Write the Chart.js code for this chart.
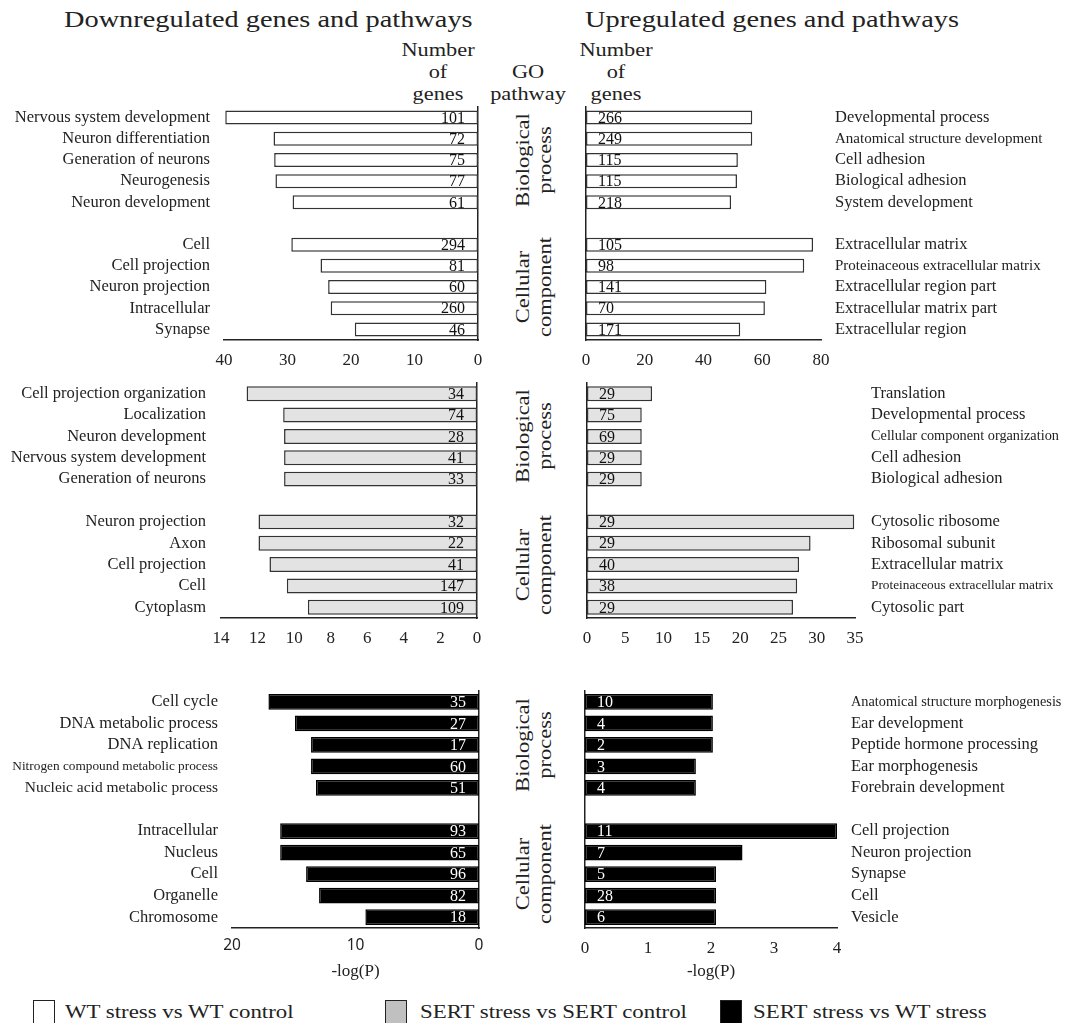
<!DOCTYPE html>
<html>
<head>
<meta charset="utf-8">
<script src="https://cdn.jsdelivr.net/npm/chart.js@4/dist/chart.umd.min.js"></script>
<style>
body { margin: 0; background: #fff; }
#page { position: relative; width: 1079px; height: 1023px; overflow: hidden; font-family: "Liberation Serif", serif; color: #222; }
canvas { position: absolute; }
.t { position: absolute; white-space: nowrap; line-height: 1; }
.c { position: absolute; text-align: center; white-space: nowrap; font-size: 18px; line-height: 22px; transform: scaleX(1.24); }
.rot { position: absolute; width: 140px; height: 44px; text-align: center; font-size: 18px; line-height: 22px; white-space: nowrap; transform: rotate(-90deg) scaleX(1.25); }
.box { position: absolute; width: 20px; height: 22px; border: 1.5px solid #222; top: 1000px; }
</style>
</head>
<body>
<div id="page">
  <div class="t" style="left:64px;top:9px;font-size:22.5px;transform-origin:left center;transform:scaleX(1.26)">Downregulated genes and pathways</div>
  <div class="t" style="left:585px;top:9px;font-size:22.5px;transform-origin:left center;transform:scaleX(1.26)">Upregulated genes and pathways</div>
  <div class="c" style="left:388px;width:100px;top:39px">Number<br>of<br>genes</div>
  <div class="c" style="left:478px;width:100px;top:61px">GO<br>pathway</div>
  <div class="c" style="left:566px;width:100px;top:39px">Number<br>of<br>genes</div>

  <div class="box" style="left:33px;background:#fff"></div>
  <div class="t" style="left:65px;top:1003px;font-size:18px;transform-origin:left center;transform:scaleX(1.27)">WT stress vs WT control</div>
  <div class="box" style="left:385px;background:#c0c0c0"></div>
  <div class="t" style="left:420px;top:1003px;font-size:18px;transform-origin:left center;transform:scaleX(1.27)">SERT stress vs SERT control</div>
  <div class="box" style="left:720px;background:#000"></div>
  <div class="t" style="left:753px;top:1003px;font-size:18px;transform-origin:left center;transform:scaleX(1.27)">SERT stress vs WT stress</div>
</div>
<script>
// WT stress vs WT control
const wtDownLabels = ['Nervous system development', 'Neuron differentiation', 'Generation of neurons', 'Neurogenesis', 'Neuron development',
  'Cell', 'Cell projection', 'Neuron projection', 'Intracellular', 'Synapse'];
const wtDownLogP = [39.8, 32.2, 32.1, 31.9, 29.2, 29.4, 24.8, 23.6, 23.2, 19.4];
const wtDownGenes = [101, 72, 75, 77, 61, 294, 81, 60, 260, 46];

const wtUpLabels = ['Developmental process', 'Anatomical structure development', 'Cell adhesion', 'Biological adhesion', 'System development',
  'Extracellular matrix', 'Proteinaceous extracellular matrix', 'Extracellular region part', 'Extracellular matrix part', 'Extracellular region'];
const wtUpLogP = [56.6, 56.6, 51.7, 51.4, 49.4, 77.3, 74.3, 61.4, 60.9, 52.5];
const wtUpGenes = [266, 249, 115, 115, 218, 105, 98, 141, 70, 171];

// SERT stress vs SERT control
const sertDownLabels = ['Cell projection organization', 'Localization', 'Neuron development', 'Nervous system development', 'Generation of neurons',
  'Neuron projection', 'Axon', 'Cell projection', 'Cell', 'Cytoplasm'];
const sertDownLogP = [12.6, 10.6, 10.55, 10.55, 10.55, 11.95, 11.95, 11.35, 10.4, 9.25];
const sertDownGenes = [34, 74, 28, 41, 33, 32, 22, 41, 147, 109];

const sertUpLabels = ['Translation', 'Developmental process', 'Cellular component organization', 'Cell adhesion', 'Biological adhesion',
  'Cytosolic ribosome', 'Ribosomal subunit', 'Extracellular matrix', 'Proteinaceous extracellular matrix', 'Cytosolic part'];
const sertUpLogP = [8.5, 7.15, 7.15, 7.15, 7.15, 34.9, 29.2, 27.7, 27.45, 26.9];
const sertUpGenes = [29, 75, 69, 29, 29, 29, 29, 40, 38, 29];

// SERT stress vs WT stress
const sxwDownLabels = ['Cell cycle', 'DNA metabolic process', 'DNA replication', 'Nitrogen compound metabolic process', 'Nucleic acid metabolic process',
  'Intracellular', 'Nucleus', 'Cell', 'Organelle', 'Chromosome'];
const sxwDownLogP = [17.05, 14.9, 13.6, 13.6, 13.2, 16.1, 16.1, 14.0, 12.95, 9.2];
const sxwDownGenes = [35, 27, 17, 60, 51, 93, 65, 96, 82, 18];

const sxwUpLabels = ['Anatomical structure morphogenesis', 'Ear development', 'Peptide hormone processing', 'Ear morphogenesis', 'Forebrain development',
  'Cell projection', 'Neuron projection', 'Synapse', 'Cell', 'Vesicle'];
const sxwUpLogP = [2.03, 2.03, 2.03, 1.76, 1.76, 4.0, 2.5, 2.08, 2.08, 2.08];
const sxwUpGenes = [10, 4, 2, 3, 4, 11, 7, 5, 28, 6];

const SERIF = '"Liberation Serif", serif';
const INK = '#222';
const page = document.getElementById('page');

// spacer row between Biological process and Cellular component
function withGap(arr, gap) { return [...arr.slice(0, 5), gap, ...arr.slice(5)]; }

function zeroPad(s) { s.paddingTop = 0; s.paddingBottom = 0; s.paddingLeft = 0; s.paddingRight = 0; }

const countLabels = {
  id: 'countLabels',
  afterDatasetsDraw(chart, args, opts) {
    const ctx = chart.ctx;
    const x0 = chart.scales.x.getPixelForValue(0);
    ctx.save();
    ctx.font = '16px ' + SERIF;
    ctx.fillStyle = opts.color;
    ctx.textBaseline = 'middle';
    ctx.textAlign = opts.side === 'left' ? 'right' : 'left';
    chart.getDatasetMeta(0).data.forEach((bar, i) => {
      const n = opts.genes[i];
      if (n == null) return;
      ctx.fillText(String(n), opts.side === 'left' ? x0 - 13 : x0 + 12, bar.y + 1);
    });
    ctx.restore();
  }
};

function panel(p) {
  const a = p.area, edge = 10, padTop = 4;
  const axisH = p.title ? 58 : 40;
  let left, width, labW;
  if (p.side === 'left') { left = 0; width = a.x1 + edge; labW = a.x0; }
  else { left = a.x0 - edge; width = 1079 - left; labW = 1079 - a.x1; }
  const cv = document.createElement('canvas');
  cv.width = width; cv.height = padTop + (a.y1 - a.y0) + axisH;
  cv.style.left = left + 'px'; cv.style.top = (a.y0 - padTop) + 'px';
  page.appendChild(cv);

  const rows = withGap(p.labels, '');
  const small = p.small || {};
  const chart = new Chart(cv, {
    type: 'bar',
    data: {
      labels: rows,
      datasets: [{
        data: withGap(p.values, null),
        backgroundColor: p.fill,
        borderColor: p.edgeColor,
        borderWidth: 1.5,
        borderSkipped: false,
        barPercentage: p.barPct,
        categoryPercentage: 1
      }]
    },
    options: {
      indexAxis: 'y',
      responsive: false,
      animation: false,
      events: [],
      layout: { padding: { top: padTop, left: 0, right: 0, bottom: 0 } },
      plugins: {
        legend: { display: false },
        tooltip: { enabled: false },
        countLabels: { genes: withGap(p.genes, null), side: p.side, color: p.countColor }
      },
      scales: {
        x: {
          reverse: p.side === 'left',
          min: 0, max: p.max,
          grid: { display: false, drawTicks: false },
          border: { display: true, color: INK, width: 1.5 },
          ticks: { stepSize: p.step, color: INK, padding: p.tickPad || 10, font: p.tickFont || { family: SERIF, size: 17 } },
          title: p.title ? { display: true, text: p.title, color: INK, font: { family: SERIF, size: 17 }, padding: { top: 0, bottom: 4 } } : { display: false },
          afterFit: s => { s.height = axisH; zeroPad(s); }
        },
        y: {
          position: p.side === 'left' ? 'right' : 'left',
          grid: { display: false, drawTicks: false },
          border: { display: true, color: INK, width: 1.5 },
          ticks: { display: false },
          afterFit: s => { s.width = edge; zeroPad(s); }
        },
        y2: {
          type: 'category',
          offset: true,
          position: p.side === 'left' ? 'left' : 'right',
          grid: { display: false, drawTicks: false },
          border: { display: false },
          ticks: {
            autoSkip: false, color: INK, padding: p.labPad || 14,
            font: ctx => ({ family: SERIF, size: small[rows[ctx.index]] || 16.5 })
          },
          afterFit: s => { s.width = labW; zeroPad(s); }
        }
      }
    },
    plugins: [countLabels]
  });
  return chart;
}

function groupLabels(chart, canvasTop) {
  const y = chart.scales.y;
  const mid = (i, j) => canvasTop + (y.getPixelForValue(i) + y.getPixelForValue(j)) / 2;
  [['Biological<br>process', mid(0, 4)], ['Cellular<br>component', mid(6, 10)]].forEach(([txt, cy]) => {
    const d = document.createElement('div');
    d.className = 'rot';
    d.innerHTML = txt;
    d.style.left = (534 - 70) + 'px';
    d.style.top = (cy - 22) + 'px';
    page.appendChild(d);
  });
}

const white = { fill: '#fff', edgeColor: '#333', countColor: '#111' };
const gray = { fill: '#e3e3e3', edgeColor: '#333', countColor: '#111' };
const black = { fill: '#000', edgeColor: '#000', countColor: '#fff' };

const c1 = panel({ side: 'left', labels: wtDownLabels, values: wtDownLogP, genes: wtDownGenes, max: 40, step: 10,
  area: { x0: 224, x1: 478, y0: 107, y1: 340 }, barPct: 0.66, ...white });
panel({ side: 'right', labels: wtUpLabels, values: wtUpLogP, genes: wtUpGenes, max: 80, step: 20,
  area: { x0: 586, x1: 821, y0: 107, y1: 340 }, barPct: 0.66, ...white,
  small: { 'Anatomical structure development': 15, 'Proteinaceous extracellular matrix': 15 } });

const c2 = panel({ side: 'left', labels: sertDownLabels, values: sertDownLogP, genes: sertDownGenes, max: 14, step: 2,
  area: { x0: 221, x1: 477, y0: 383, y1: 618 }, barPct: 0.7, ...gray, labPad: 15 });
panel({ side: 'right', labels: sertUpLabels, values: sertUpLogP, genes: sertUpGenes, max: 35, step: 5,
  area: { x0: 587, x1: 855, y0: 383, y1: 618 }, barPct: 0.7, ...gray, labPad: 16,
  small: { 'Cellular component organization': 14.3, 'Proteinaceous extracellular matrix': 13.3 } });

const c3 = panel({ side: 'left', labels: sxwDownLabels, values: sxwDownLogP, genes: sxwDownGenes, max: 20, step: 10,
  area: { x0: 232, x1: 479, y0: 691, y1: 928 }, barPct: 0.73, ...black, title: '-log(P)',
  tickFont: { family: '"Noto Sans", sans-serif', size: 15.5 }, tickPad: 8,
  small: { 'Nitrogen compound metabolic process': 13.3, 'Nucleic acid metabolic process': 15.5 } });
panel({ side: 'right', labels: sxwUpLabels, values: sxwUpLogP, genes: sxwUpGenes, max: 4, step: 1,
  area: { x0: 585, x1: 837, y0: 691, y1: 928 }, barPct: 0.73, ...black, title: '-log(P)',
  small: { 'Anatomical structure morphogenesis': 14.3 } });

groupLabels(c1, 107 - 4);
groupLabels(c2, 383 - 4);
groupLabels(c3, 691 - 4);
</script>
</body>
</html>
